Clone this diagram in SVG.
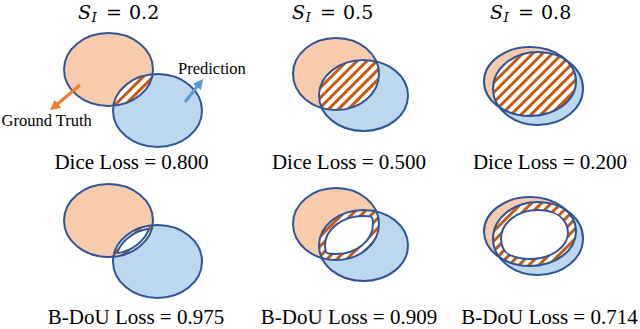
<svg xmlns="http://www.w3.org/2000/svg" width="640" height="329" viewBox="0 0 640 329">
<style>
.gt{fill:#F8CBAD}
.pr{fill:#BDD7EE}
.ol{fill:none;stroke:#2F5597;stroke-width:2}
.inw{fill:#FFFFFF}
.lbl{font-family:"Liberation Serif",serif;font-size:21px;fill:#000;text-anchor:middle}
.sm{font-family:"Liberation Serif",serif;font-size:16.5px;fill:#000}
.si{font-family:"DejaVu Serif",serif;font-size:19px;fill:#000}
.it{font-style:italic}
.sub{font-style:italic;font-size:13.5px}
</style>
<defs>
<pattern id="hatch" patternUnits="userSpaceOnUse" width="7" height="7" patternTransform="rotate(45)">
<rect x="0" y="0" width="7" height="7" fill="#FFFFFF"/>
<rect x="0" y="0" width="3" height="7" fill="#C55A11"/>
</pattern>
<marker id="ahO" viewBox="0 0 10 10" refX="5" refY="5" markerWidth="3.4" markerHeight="3.4" orient="auto" markerUnits="strokeWidth">
<path d="M0,0 L10,5 L0,10 z" fill="#ED7D31"/>
</marker>
<marker id="ahB" viewBox="0 0 10 10" refX="5" refY="5" markerWidth="3.4" markerHeight="3.4" orient="auto" markerUnits="strokeWidth">
<path d="M0,0 L10,5 L0,10 z" fill="#5B9BD5"/>
</marker>
<clipPath id="g1"><ellipse cx="108.5" cy="69.5" rx="44.5" ry="36.5"/></clipPath>
<clipPath id="g2"><ellipse cx="336" cy="74" rx="43" ry="36"/></clipPath>
<clipPath id="g3"><ellipse cx="530" cy="81.5" rx="46" ry="34.5"/></clipPath>
<clipPath id="g4"><ellipse cx="108.5" cy="220.5" rx="44.5" ry="36.5"/></clipPath>
<clipPath id="g4i"><ellipse cx="108.5" cy="220.5" rx="41.5" ry="33.5"/></clipPath>
<clipPath id="p4i"><ellipse cx="157.5" cy="261.5" rx="41.5" ry="33.5"/></clipPath>
<clipPath id="g5"><ellipse cx="336" cy="224" rx="43" ry="36"/></clipPath>
<clipPath id="g5i"><ellipse cx="336" cy="224" rx="37" ry="30"/></clipPath>
<clipPath id="p5i"><ellipse cx="363.5" cy="245.5" rx="38.5" ry="29.5"/></clipPath>
<clipPath id="g6"><ellipse cx="530" cy="231.5" rx="46" ry="34.5"/></clipPath>
<clipPath id="g6i"><ellipse cx="530" cy="232.5" rx="38" ry="26.5"/></clipPath>
<clipPath id="p6i"><ellipse cx="538" cy="238.5" rx="37" ry="28.5"/></clipPath>
</defs>
<rect x="0" y="0" width="640" height="329" fill="#FFFFFF"/>

<g id="title1"><text class="si" y="18.5"><tspan class="it" x="78">S</tspan><tspan class="sub" x="91.5" y="22">I</tspan><tspan x="106" y="18.5">=</tspan><tspan x="129">0.2</tspan></text></g>
<g id="title2"><text class="si" y="18.5"><tspan class="it" x="292">S</tspan><tspan class="sub" x="305.5" y="22">I</tspan><tspan x="320" y="18.5">=</tspan><tspan x="343">0.5</tspan></text></g>
<g id="title3"><text class="si" y="18.5"><tspan class="it" x="490">S</tspan><tspan class="sub" x="503.5" y="22">I</tspan><tspan x="518" y="18.5">=</tspan><tspan x="541">0.8</tspan></text></g>

<g id="dice1">
<ellipse class="gt" cx="108.5" cy="69.5" rx="44.5" ry="36.5"/>
<ellipse class="pr" cx="157.5" cy="110.5" rx="44.5" ry="36.5"/>
<ellipse fill="url(#hatch)" cx="157.5" cy="110.5" rx="44.5" ry="36.5" clip-path="url(#g1)"/>
<ellipse class="ol" cx="108.5" cy="69.5" rx="44.5" ry="36.5"/>
<ellipse class="ol" cx="157.5" cy="110.5" rx="44.5" ry="36.5"/>
</g>
<g id="dice2">
<ellipse class="gt" cx="336" cy="74" rx="43" ry="36"/>
<ellipse class="pr" cx="363.5" cy="95.5" rx="44.5" ry="35.5"/>
<ellipse fill="url(#hatch)" cx="363.5" cy="95.5" rx="44.5" ry="35.5" clip-path="url(#g2)"/>
<ellipse class="ol" cx="336" cy="74" rx="43" ry="36"/>
<ellipse class="ol" cx="363.5" cy="95.5" rx="44.5" ry="35.5"/>
</g>
<g id="dice3">
<ellipse class="gt" cx="530" cy="81.5" rx="46" ry="34.5"/>
<ellipse class="pr" cx="538" cy="88.5" rx="45" ry="36.5"/>
<ellipse fill="url(#hatch)" cx="538" cy="88.5" rx="45" ry="36.5" clip-path="url(#g3)"/>
<ellipse class="ol" cx="530" cy="81.5" rx="46" ry="34.5"/>
<ellipse class="ol" cx="538" cy="88.5" rx="45" ry="36.5"/>
</g>

<g id="bdou1">
<ellipse class="gt" cx="108.5" cy="220.5" rx="44.5" ry="36.5"/>
<ellipse class="pr" cx="157.5" cy="261.5" rx="44.5" ry="36.5"/>
<ellipse fill="url(#hatch)" cx="157.5" cy="261.5" rx="44.5" ry="36.5" clip-path="url(#g4)"/>
<ellipse class="inw" cx="157.5" cy="261.5" rx="41.5" ry="33.5" clip-path="url(#g4i)"/>
<ellipse class="ol" cx="157.5" cy="261.5" rx="41.5" ry="33.5" clip-path="url(#g4i)" stroke-width="1.5"/>
<ellipse class="ol" cx="108.5" cy="220.5" rx="41.5" ry="33.5" clip-path="url(#p4i)" stroke-width="1.5"/>
<ellipse class="ol" cx="108.5" cy="220.5" rx="44.5" ry="36.5"/>
<ellipse class="ol" cx="157.5" cy="261.5" rx="44.5" ry="36.5"/>
</g>
<g id="bdou2">
<ellipse class="gt" cx="336" cy="224" rx="43" ry="36"/>
<ellipse class="pr" cx="363.5" cy="245.5" rx="44.5" ry="35.5"/>
<ellipse fill="url(#hatch)" cx="363.5" cy="245.5" rx="44.5" ry="35.5" clip-path="url(#g5)"/>
<ellipse class="inw" cx="363.5" cy="245.5" rx="38.5" ry="29.5" clip-path="url(#g5i)"/>
<ellipse class="ol" cx="363.5" cy="245.5" rx="38.5" ry="29.5" clip-path="url(#g5i)"/>
<ellipse class="ol" cx="336" cy="224" rx="37" ry="30" clip-path="url(#p5i)"/>
<ellipse class="ol" cx="336" cy="224" rx="43" ry="36"/>
<ellipse class="ol" cx="363.5" cy="245.5" rx="44.5" ry="35.5"/>
</g>
<g id="bdou3">
<ellipse class="gt" cx="530" cy="231.5" rx="46" ry="34.5"/>
<ellipse class="pr" cx="538" cy="238.5" rx="45" ry="36.5"/>
<ellipse fill="url(#hatch)" cx="538" cy="238.5" rx="45" ry="36.5" clip-path="url(#g6)"/>
<ellipse class="inw" cx="538" cy="238.5" rx="37" ry="28.5" clip-path="url(#g6i)"/>
<ellipse class="ol" cx="538" cy="238.5" rx="37" ry="28.5" clip-path="url(#g6i)"/>
<ellipse class="ol" cx="530" cy="232.5" rx="38" ry="26.5" clip-path="url(#p6i)"/>
<ellipse class="ol" cx="530" cy="231.5" rx="46" ry="34.5"/>
<ellipse class="ol" cx="538" cy="238.5" rx="45" ry="36.5"/>
</g>

<g id="connectors">
<line x1="80" y1="85" x2="54" y2="107" stroke="#ED7D31" stroke-width="3" marker-end="url(#ahO)"/>
<line x1="185" y1="102" x2="200" y2="83" stroke="#5B9BD5" stroke-width="3" marker-end="url(#ahB)"/>
</g>

<g id="annotations">
<text class="sm" x="1.5" y="126">Ground Truth</text>
<text class="sm" x="178" y="73.5">Prediction</text>
</g>

<g id="labels">
<text class="lbl" x="131.5" y="169">Dice Loss = 0.800</text>
<text class="lbl" x="349" y="169">Dice Loss = 0.500</text>
<text class="lbl" x="550" y="169">Dice Loss = 0.200</text>
<text class="lbl" x="136" y="324">B-DoU Loss = 0.975</text>
<text class="lbl" x="349" y="324">B-DoU Loss = 0.909</text>
<text class="lbl" x="549.5" y="324">B-DoU Loss = 0.714</text>
</g>
</svg>
